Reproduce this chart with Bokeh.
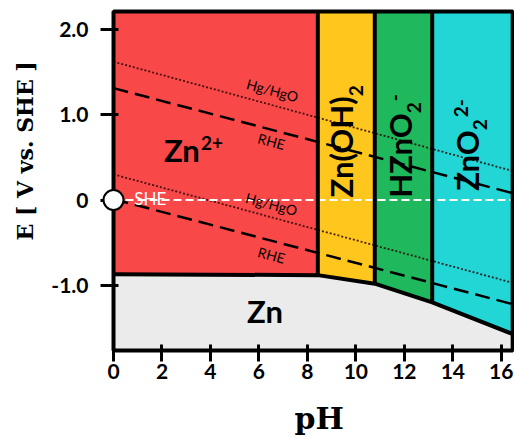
from bokeh.plotting import figure
from bokeh.models import FixedTicker, Range1d, Title
from bokeh.core.properties import value
from bokeh.embed import file_html
from bokeh.resources import INLINE
import math

# ---------------- data ----------------
ph_lim = [0.0, 16.47]        # diagram box, pH
e_lim = [-1.764, 2.208]      # diagram box, V vs. SHE

# pH of the vertical phase boundaries
boundary_ph = [8.43, 10.78, 13.15]

# Zn(s) / dissolved-species boundary
zn_line_ph = [0.0, 8.43, 10.78, 13.15, 16.47]
zn_line_e = [-0.87, -0.88, -0.98, -1.20, -1.57]

region_colors = ["#F84848", "#FFC61E", "#1FB85C", "#22D6D6"]
zn_color = "#EBEBEB"

# reference electrode lines (E at pH 0 and at the right edge)
ref_ph = [0.0, 16.47]
rhe_upper = [1.31, 0.08]
rhe_lower = [0.01, -1.22]
hg_upper = [1.62, 0.34]
hg_lower = [0.30, -0.97]
she_e = [0.0, 0.0]

x_ticks = [0, 2, 4, 6, 8, 10, 12, 14, 16]
y_ticks = [-1, 0, 1, 2]
y_tick_labels = {-1: "-1.0", 0: "0", 1: "1.0", 2: "2.0"}

SANS = value("Lato")

# ---------------- figure ----------------
# The plotting area reaches past the diagram box so that the SHE marker,
# the thick box outline and the tick labels (axes pinned to the box) are
# all drawn inside it.
p = figure(width=514, height=439, output_backend="svg", toolbar_location=None,
           x_range=Range1d(-2.765, 16.545), y_range=Range1d(-2.278, 2.243),
           min_border_left=44, min_border_right=0, min_border_top=8,
           min_border_bottom=44)
p.grid.visible = False
p.background_fill_color = "white"
p.border_fill_color = "white"
p.outline_line_color = None

for ax in (p.xaxis[0], p.yaxis[0]):
    ax.axis_line_color = None
    ax.major_tick_line_color = "black"
    ax.major_tick_line_width = 3
    ax.minor_tick_line_color = None
    ax.major_label_text_font = "Lato"
    ax.major_label_text_font_style = "bold"
    ax.major_label_text_font_size = "21px"
    ax.major_label_text_color = "black"

p.xaxis.fixed_location = e_lim[0]
p.xaxis.ticker = FixedTicker(ticks=x_ticks)
p.xaxis.major_tick_in = 6
p.xaxis.major_tick_out = 11
p.xaxis.major_label_standoff = 2

p.yaxis.fixed_location = ph_lim[0]
p.yaxis.ticker = FixedTicker(ticks=y_ticks)
p.yaxis.major_label_overrides = y_tick_labels
p.yaxis.major_tick_in = 5
p.yaxis.major_tick_out = 13
p.yaxis.major_label_standoff = 12

# ---------------- stability regions ----------------
p.quad(left=ph_lim[0], right=ph_lim[1], bottom=e_lim[0], top=e_lim[1],
       fill_color=zn_color, line_color=None)

edges = [ph_lim[0]] + boundary_ph + [ph_lim[1]]
xs, ys = [], []
for i in range(len(edges) - 1):
    xs.append([edges[i], edges[i + 1], edges[i + 1], edges[i]])
    ys.append([e_lim[1], e_lim[1], zn_line_e[i + 1], zn_line_e[i]])
p.patches(xs, ys, fill_color=region_colors, line_color=None)

# ---------------- reference electrode lines ----------------
for e_vals in (hg_upper, hg_lower):
    p.line(ref_ph, e_vals, line_color="#2a0505", line_width=1.8,
           line_dash="2 2", line_alpha=0.85)
for e_vals in (rhe_upper, rhe_lower):
    p.line(ref_ph, e_vals, line_color="black", line_width=2.5, line_dash="15 7")

p.line(ref_ph, she_e, line_color="white", line_width=2, line_dash="8 4")

# ---------------- phase boundaries and box ----------------
p.segment(x0=boundary_ph, y0=[e_lim[1]] * 3, x1=boundary_ph,
          y1=zn_line_e[1:4], line_color="black", line_width=4)
p.line(zn_line_ph, zn_line_e, line_color="black", line_width=4)
p.quad(left=ph_lim[0], right=ph_lim[1], bottom=e_lim[0], top=e_lim[1],
       fill_color=None, line_color="black", line_width=4)

# ---------------- labels ----------------
ang = -0.262
p.text(x=[6.56, 6.52], y=[1.285, -0.047], text=["Hg/HgO", "Hg/HgO"],
       angle=ang, text_font=SANS, text_font_size="14px",
       text_align="center", text_baseline="middle", text_color="black")
p.text(x=[6.52, 6.52], y=[0.689, -0.643], text=["RHE", "RHE"],
       angle=ang, text_font=SANS, text_font_size="14px",
       text_align="center", text_baseline="middle", text_color="black")

p.text(x=[0.855], y=[0.018], text=["SHE"], text_font=SANS,
       text_font_size="17px", text_align="left", text_baseline="middle",
       text_color="white")


def species(x, y, txt, size, align="left", angle=0.0):
    p.text(x=[x], y=[y], text=[txt], angle=angle, text_font=SANS,
           text_font_style="bold", text_font_size=size, text_align=align,
           text_baseline="alphabetic", text_color="black")


# Zn2+
species(3.56, 0.590, "Zn", "31px", align="right")
species(3.61, 0.672, "2+", "19px")
# Zn
species(6.25, -1.303, "Zn", "31px", align="center")
# Zn(OH)2
v = math.pi / 2
species(9.37, 1.215, "Zn(OH)", "31px", align="right", angle=v)
species(10.01, 1.215, "2", "19px", angle=v)
# HZnO2-
species(11.84, 1.016, "HZnO", "31px", align="right", angle=v)
species(12.40, 1.016, "2", "19px", angle=v)
species(11.60, 1.157, "-", "19px", angle=v)
# ZnO2 2-
species(14.59, 0.818, "ZnO", "31px", align="right", angle=v)
species(15.13, 0.818, "2", "19px", angle=v)
species(14.35, 0.970, "2-", "19px", angle=v)

# SHE reference point
p.scatter(x=[0], y=[0], size=20, fill_color="white", line_color="black",
          line_width=2, level="overlay")

# axis titles
p.add_layout(Title(text="E [ V vs. SHE ]", align="left", offset=154,
                   standoff=18, text_font="DejaVu Serif",
                   text_font_style="bold", text_font_size="22px",
                   text_color="black"), "left")
p.add_layout(Title(text="pH", align="left", offset=248, standoff=8,
                   text_font="DejaVu Serif", text_font_style="bold",
                   text_font_size="30px", text_color="black"), "below")

open("out.html", "w").write(file_html(p, INLINE))
